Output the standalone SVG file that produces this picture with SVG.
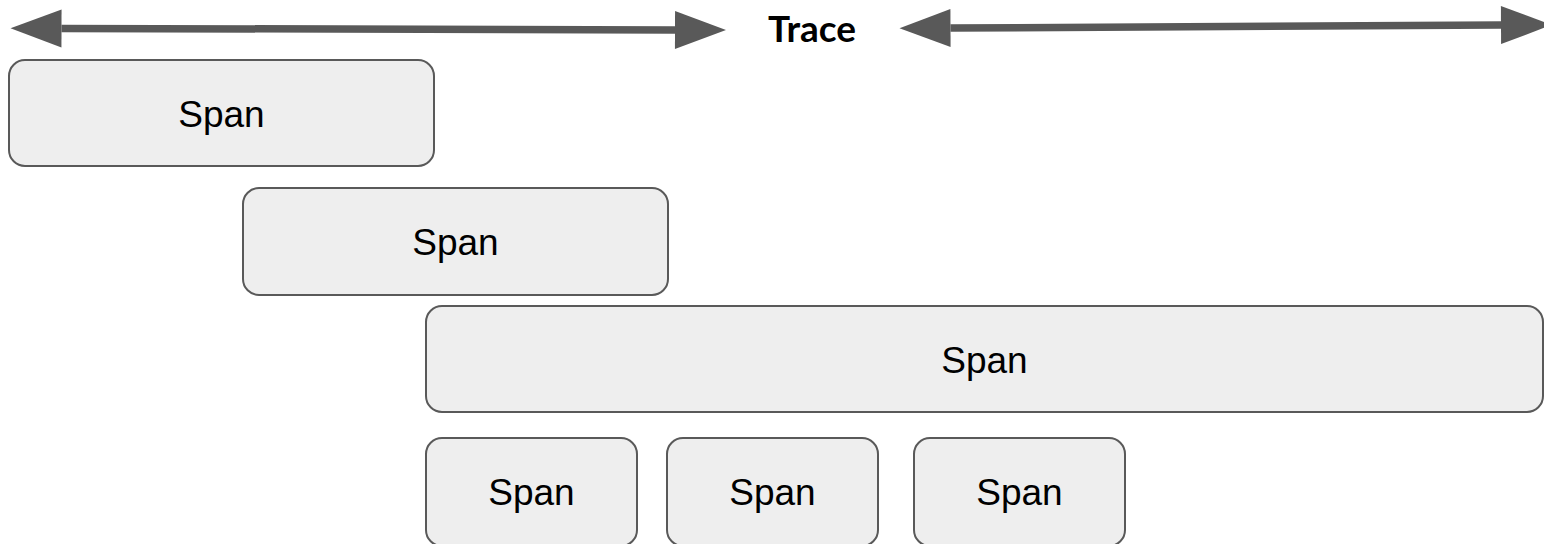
<svg xmlns="http://www.w3.org/2000/svg" width="1544" height="544" viewBox="0 0 1544 544">
  <style>
    .box { fill: #eeeeee; stroke: #595959; stroke-width: 2; }
    .lbl { font-family: "Liberation Sans", Arial, sans-serif; font-size: 37px; fill: #000000; text-anchor: middle; }
    .title { font-family: Lato, "Liberation Sans", sans-serif; font-weight: bold; font-size: 37px; fill: #000000; text-anchor: middle; }
    .arr { stroke: #595959; stroke-width: 7.5; fill: none; marker-start: url(#head); marker-end: url(#head); }
  </style>
  <defs>
    <marker id="head" markerUnits="userSpaceOnUse" markerWidth="52" markerHeight="40" refX="0" refY="19" orient="auto-start-reverse" overflow="visible">
      <path d="M0,0 L51,19 L0,38 Z" fill="#595959"/>
    </marker>
  </defs>
  <rect width="1544" height="544" fill="#ffffff"/>
  <g id="connectors">
    <line class="arr" x1="61.5" y1="28.4" x2="675" y2="29.9"/>
    <line class="arr" x1="950.5" y1="28" x2="1501" y2="25.1"/>
  </g>
  <g id="trace-label">
    <text class="title" x="812" y="42">Trace</text>
  </g>
  <g id="span1">
    <rect class="box" x="9" y="60" width="425" height="106" rx="16"/>
    <text class="lbl" x="221.5" y="126.5">Span</text>
  </g>
  <g id="span2">
    <rect class="box" x="243" y="188" width="425" height="107" rx="16"/>
    <text class="lbl" x="455.5" y="255">Span</text>
  </g>
  <g id="span3">
    <rect class="box" x="426" y="306" width="1117" height="106" rx="16"/>
    <text class="lbl" x="984.5" y="372.5">Span</text>
  </g>
  <g id="span4">
    <rect class="box" x="426" y="438" width="211" height="108" rx="16"/>
    <text class="lbl" x="531.5" y="505">Span</text>
  </g>
  <g id="span5">
    <rect class="box" x="667" y="438" width="211" height="108" rx="16"/>
    <text class="lbl" x="772.5" y="505">Span</text>
  </g>
  <g id="span6">
    <rect class="box" x="914" y="438" width="211" height="108" rx="16"/>
    <text class="lbl" x="1019.5" y="505">Span</text>
  </g>
</svg>
